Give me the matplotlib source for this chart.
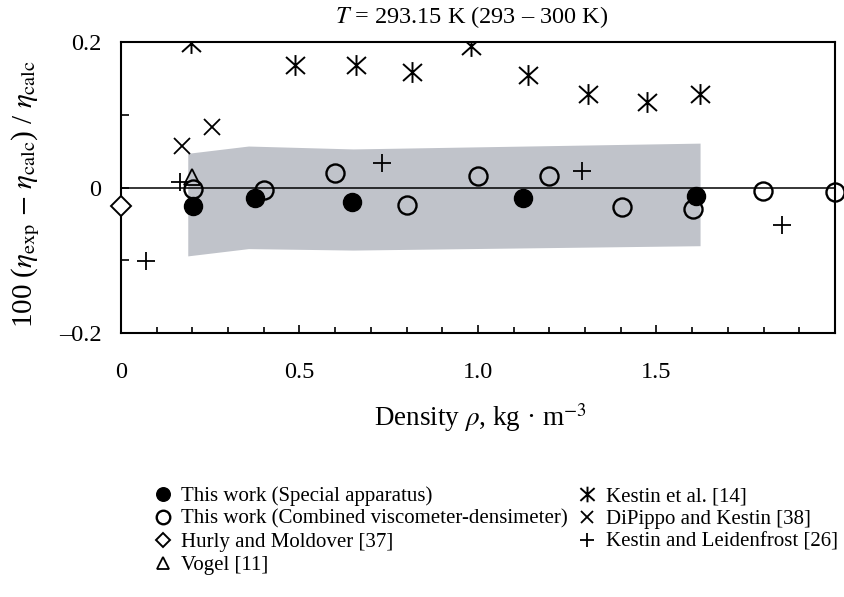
import numpy as np
import matplotlib.pyplot as plt
from matplotlib.path import Path

plt.rcParams['font.family'] = ['Liberation Serif', 'DejaVu Serif']
plt.rcParams['mathtext.fontset'] = 'stix'

# Deviation data, 100*(eta_exp - eta_calc)/eta_calc versus density
special_rho = [0.203, 0.375, 0.648, 1.127, 1.611]
special_dev = [-0.026, -0.015, -0.020, -0.015, -0.012]

combined_rho = [0.203, 0.401, 0.599, 0.800, 0.999, 1.200, 1.402, 1.601, 1.799, 2.000]
combined_dev = [-0.002, -0.003, 0.020, -0.024, 0.016, 0.016, -0.027, -0.029, -0.005, -0.006]

hurly_rho = [0.0]
hurly_dev = [-0.026]

vogel_rho = [0.200]
vogel_dev = [0.015]

kestin_rho = [0.195, 0.487, 0.658, 0.814, 0.980, 1.139, 1.308, 1.473, 1.622]
kestin_dev = [0.199, 0.168, 0.168, 0.159, 0.194, 0.155, 0.128, 0.118, 0.128]

dipippo_rho = [0.170, 0.256]
dipippo_dev = [0.057, 0.083]

leiden_rho = [0.070, 0.165, 0.730, 1.292, 1.851]
leiden_dev = [-0.101, 0.008, 0.033, 0.022, -0.052]

# Uncertainty band
band_rho = [0.187, 0.357, 0.650, 1.622]
band_hi = [0.047, 0.057, 0.053, 0.061]
band_lo = [-0.094, -0.084, -0.086, -0.080]

# six-armed asterisk: vertical stroke plus a cross
star = Path([(0, -1.1), (0, 1.1), (-1.0, -0.9), (1.0, 0.9), (-1.0, 0.9), (1.0, -0.9)],
            [Path.MOVETO, Path.LINETO, Path.MOVETO, Path.LINETO, Path.MOVETO, Path.LINETO])

fig = plt.figure(figsize=(8.45, 5.97), dpi=100)
ax = fig.add_axes([121 / 845, 1 - 333 / 597, 714 / 845, 291 / 597])

ax.fill_between(band_rho, band_lo, band_hi, color='#c0c3ca', lw=0, zorder=1)
ax.axhline(0, color='black', lw=1.1, zorder=2)

ms_kw = dict(ls='none', color='black', zorder=3)
ax.plot(kestin_rho, kestin_dev, marker=star, ms=15, mew=1.4, label='Kestin et al. [14]', **ms_kw)
ax.plot(dipippo_rho, dipippo_dev, marker='x', ms=12, mew=1.3, label='DiPippo and Kestin [38]', **ms_kw)
ax.plot(leiden_rho, leiden_dev, marker='+', ms=13, mew=1.3, label='Kestin and Leidenfrost [26]', **ms_kw)
ax.plot(hurly_rho, hurly_dev, marker='D', ms=10, mew=1.4, mfc='white', clip_on=False,
        label='Hurly and Moldover [37]', **ms_kw)
ax.plot(vogel_rho, vogel_dev, marker='^', ms=11, mew=1.3, mfc='none', label='Vogel [11]', **ms_kw)
ax.plot(combined_rho, combined_dev, marker='o', ms=13, mew=1.7, mfc='none', clip_on=False,
        label='This work (Combined viscometer-densimeter)', **ms_kw)
ax.plot(special_rho, special_dev, marker='o', ms=13, mew=1.0, label='This work (Special apparatus)', **ms_kw)

ax.set_xlim(0, 2.0)
ax.set_ylim(-0.2, 0.2)
ax.set_xticks([0, 0.5, 1.0, 1.5])
ax.set_xticklabels(['0', '0.5', '1.0', '1.5'])
ax.set_xticks(np.arange(0.1, 2.0, 0.1), minor=True)
ax.set_yticks([-0.2, 0, 0.2])
ax.set_yticklabels(['\u20130.2', '0', '0.2'])
ax.set_yticks([-0.1, 0.1], minor=True)
ax.tick_params(axis='both', which='both', direction='in', labelsize=17.5, width=1.2)
ax.tick_params(axis='x', which='major', length=6, pad=21)
ax.tick_params(axis='x', which='minor', length=4)
ax.tick_params(axis='y', which='both', length=6, pad=14)
for s in ax.spines.values():
    s.set_linewidth(1.5)

fig.text(472 / 845, 1 - 17 / 597, r'$T$ = 293.15 K (293 – 300 K)', ha='center', va='center', fontsize=17.5)
fig.text(480 / 845, 1 - 418 / 597, r'Density $\rho$, kg · m$^{-3}$', ha='center', va='center', fontsize=19.5)
fig.text(26 / 845, 1 - 194 / 597, r'100 ($\eta_{\rm exp}$ $-$ $\eta_{\rm calc}$) / $\eta_{\rm calc}$',
         ha='center', va='center', rotation=90, fontsize=21)

# legend order: two columns, left column first
h, l = ax.get_legend_handles_labels()
order = [6, 5, 3, 4, 0, 1, 2]
fig.legend([h[i] for i in order], [l[i] for i in order], ncol=2, loc='upper left',
           bbox_to_anchor=(146 / 845, 1 - 478 / 597), frameon=False, fontsize=15,
           markerscale=0.75, handlelength=0.8, handletextpad=0.5, labelspacing=0.16,
           columnspacing=0.5, borderaxespad=0)

fig.savefig('out.png', dpi=100)
